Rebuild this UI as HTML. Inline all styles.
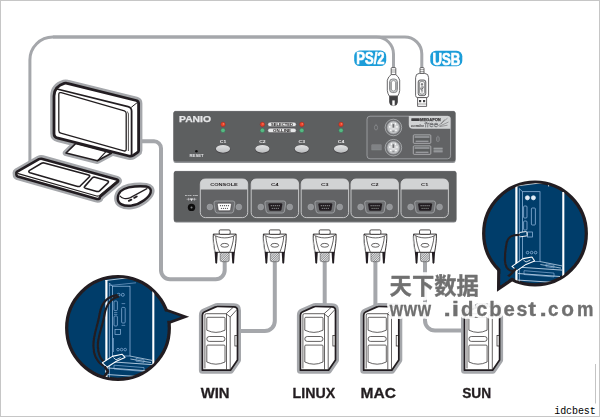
<!DOCTYPE html>
<html><head><meta charset="utf-8"><title>KVM switch connection diagram</title>
<style>
html,body{margin:0;padding:0;background:#fff}
body{width:600px;height:417px;overflow:hidden;font-family:"Liberation Sans",sans-serif}
svg{display:block}
</style></head><body>
<svg width="600" height="417" viewBox="0 0 600 417">

<defs>
<linearGradient id="btn" x1="0" y1="0" x2="0" y2="1"><stop offset="0" stop-color="#e2e3e4"/><stop offset="1" stop-color="#bcbec0"/></linearGradient>
<radialGradient id="ps2g" cx="0.5" cy="0.5" r="0.5"><stop offset="0" stop-color="#e6e7e8"/><stop offset="1" stop-color="#bcbec0"/></radialGradient>
<pattern id="hatch" width="1.6" height="1.6" patternUnits="userSpaceOnUse" patternTransform="rotate(45)"><rect width="1.6" height="1.6" fill="#e6e7e8"/><rect width="0.6" height="1.6" fill="#6d6e71"/></pattern>

<!-- VGA cable plug, origin = centre x, y=0 at top (abs y 229.5) -->
<g id="vgaplug">
  <rect x="-4.5" y="22.4" width="9" height="9.8" rx="1.6" fill="url(#hatch)" stroke="#414042" stroke-width="0.5"/>
  <path d="M-11.4,4.6 H11.4 C11.7,11 10.6,17 9.6,22.8 H-9.6 C-10.6,17 -11.7,11 -11.4,4.6 Z" fill="#fff" stroke="#231f20" stroke-width="0.9" stroke-linejoin="round"/>
  <path d="M-9,6.6 C-8.6,13 -6.8,18.4 -5,22.8 M9,6.6 C8.6,13 6.8,18.4 5,22.8" fill="none" stroke="#231f20" stroke-width="0.7"/>
  <path d="M-11.4,4.8 C-6,9.6 6,9.6 11.4,4.8" fill="none" stroke="#231f20" stroke-width="0.7"/>
  <rect x="-5.5" y="0.4" width="11" height="4.4" rx="1.2" fill="#fff" stroke="#231f20" stroke-width="0.8"/>
  <ellipse cx="0" cy="15.8" rx="3.9" ry="1.9" fill="#fff" stroke="#231f20" stroke-width="0.7"/>
  <path d="M-10.1,22.6 H-6.9 L-7.5,33 Q-8.4,35.6 -9.4,33 Z" fill="#231f20"/>
  <path d="M10.1,22.6 H6.9 L7.5,33 Q8.4,35.6 9.4,33 Z" fill="#231f20"/>
  <path d="M-12,6.4 C-11.8,13 -11,18 -10.2,22" fill="none" stroke="#bcbec0" stroke-width="0.9"/>
</g>

<!-- rear VGA port, origin = centre -->
<g id="vgaport">
  <circle cx="-14.5" cy="0" r="2.9" fill="#939598" stroke="#a7a9ac" stroke-width="0.5"/>
  <circle cx="14.5" cy="0" r="2.9" fill="#939598" stroke="#a7a9ac" stroke-width="0.5"/>
  <path d="M-10.4,-4 Q-10.4,-6 -8.4,-6 H8.4 Q10.4,-6 10.4,-4 L9.2,4 Q8.9,6 6.9,6 H-6.9 Q-8.9,6 -9.2,4 Z" fill="#6d6e71" stroke="#a7a9ac" stroke-width="0.8"/>
</g>
<g id="vgaF">
  <use href="#vgaport"/>
  <path d="M-7,-2.6 Q-7,-3.8 -5.8,-3.8 H5.8 Q7,-3.8 7,-2.6 L6.2,2.6 Q6,3.8 4.8,3.8 H-4.8 Q-6,3.8 -6.2,2.6 Z" fill="#231f20"/>
  <g fill="#939598"><circle cx="-4" cy="-1.3" r="0.65"/><circle cx="-2" cy="-1.3" r="0.65"/><circle cx="0" cy="-1.3" r="0.65"/><circle cx="2" cy="-1.3" r="0.65"/><circle cx="4" cy="-1.3" r="0.65"/>
  <circle cx="-3" cy="1.3" r="0.65"/><circle cx="-1" cy="1.3" r="0.65"/><circle cx="1" cy="1.3" r="0.65"/><circle cx="3" cy="1.3" r="0.65"/></g>
</g>
<g id="vgaM">
  <use href="#vgaport"/>
  <path d="M-7,-2.6 Q-7,-3.8 -5.8,-3.8 H5.8 Q7,-3.8 7,-2.6 L6.2,2.6 Q6,3.8 4.8,3.8 H-4.8 Q-6,3.8 -6.2,2.6 Z" fill="#fff" stroke="#231f20" stroke-width="0.5"/>
  <g fill="#414042"><circle cx="-4" cy="-1.3" r="0.6"/><circle cx="-2" cy="-1.3" r="0.6"/><circle cx="0" cy="-1.3" r="0.6"/><circle cx="2" cy="-1.3" r="0.6"/><circle cx="4" cy="-1.3" r="0.6"/>
  <circle cx="-3" cy="1.3" r="0.6"/><circle cx="-1" cy="1.3" r="0.6"/><circle cx="1" cy="1.3" r="0.6"/><circle cx="3" cy="1.3" r="0.6"/></g>
</g>

<!-- PC tower, absolute coords of WIN tower -->
<path id="towerSil" d="M201.9,370.2 V315.2 Q201.9,312.9 203.8,312 L215.2,306.9 Q216,306.5 217,306.5 L233.4,306.8 Q237,306.9 237,310.4 V360 L230,370.2 Z"/>
<g id="tower">
  <use href="#towerSil" fill="none" stroke="#a5a7ab" stroke-width="7" stroke-linejoin="round"/>
  <use href="#towerSil" fill="#fff" stroke="#231f20" stroke-width="1.7" stroke-linejoin="round"/>
  <g fill="none" stroke="#231f20" stroke-width="0.7">
    <path d="M204.4,368.4 V315 Q204.4,313.7 205.8,313.7 H225.6"/>
    <path d="M226,314 V369.4 M229.7,317 V369.6"/>
    <path d="M225.6,313.7 L229.7,317 M225.6,313.7 L232.6,307.4 M229.7,317 L236.4,309.6"/>
    <path d="M206.3,318.3 Q206.3,317.3 207.3,317.3 H223.5 Q224.5,317.3 224.5,318.3 V330.2 Q215.4,334.6 206.3,330.2 Z"/>
    <rect x="206.3" y="336.5" width="18.2" height="4.9" rx="2.45"/>
    <path d="M206.3,346.1 Q206.3,345.1 207.3,345.1 H223.5 Q224.5,345.1 224.5,346.1 V362 Q215.4,366.4 206.3,362 Z"/>
    <rect x="234.4" y="335.6" width="2.6" height="10.4"/>
  </g>
</g>
</defs>

<rect x="0.5" y="0.5" width="599" height="416" fill="#fff" stroke="#c6c6c6" stroke-width="1"/>
<path d="M595.5,364 V403.5" stroke="#c4c4c4" stroke-width="1" fill="none"/>
<filter id="soft" x="0" y="0" width="600" height="417" filterUnits="userSpaceOnUse"><feGaussianBlur stdDeviation="0.38"/></filter>
<g filter="url(#soft)">
<g fill="none" stroke="#a5a7ab" stroke-linecap="butt">
<path d="M29.9,162 V60 A23,23 0 0 1 52.9,37 H376.5 A17,17 0 0 1 393.5,54 V69" stroke-width="3"/>
<path d="M52.9,37 H404.6 A17,17 0 0 1 421.8,54 V69" stroke-width="3"/>
<path d="M142,141.3 H154 A7,7 0 0 1 161,148.3 V270.2 A9,9 0 0 0 170,279.2 H215.7 A9,9 0 0 0 224.7,270.2 V260" stroke-width="4"/>
<path d="M238,331 H264.8 A10,10 0 0 0 274.8,321 V260" stroke-width="4"/>
<path d="M324.7,260 V306" stroke-width="4"/>
<path d="M375.4,260 V306" stroke-width="4"/>
<path d="M425,260 V320.5 A10,10 0 0 0 435,330.5 H464" stroke-width="4"/>
</g>
<rect x="173.4" y="111" width="282.1" height="52" rx="2.5" fill="#939598"/>
<rect x="173.4" y="111" width="282.1" height="50.6" rx="2.5" fill="#5d5e60"/>
<path d="M175,111.4 H454" stroke="#6d6e71" stroke-width="0.8"/>
<text x="179" y="121.8" font-family="Liberation Sans, sans-serif" font-weight="bold" font-size="8.6" fill="#e6e7e8" stroke="#e6e7e8" stroke-width="0.25" textLength="32" lengthAdjust="spacingAndGlyphs">PANIO</text>
<circle cx="223" cy="124.4" r="2.3" fill="#e8402a" stroke="#8a2c20" stroke-width="0.4"/><circle cx="223.5" cy="123.9" r="0.8" fill="#f47b5e"/>
<circle cx="223" cy="130.4" r="2.2" fill="#55b983" stroke="#33704f" stroke-width="0.4"/>
<text x="223" y="143.2" text-anchor="middle" font-family="Liberation Sans, sans-serif" font-weight="bold" font-size="4.1" fill="#f1f1f2" textLength="6.4" lengthAdjust="spacingAndGlyphs">C1</text>
<ellipse cx="223" cy="149.1" rx="7.5" ry="4.3" fill="#414042"/><ellipse cx="223" cy="148.8" rx="7.1" ry="3.9" fill="url(#btn)"/>
<circle cx="262.4" cy="124.4" r="2.3" fill="#e8402a" stroke="#8a2c20" stroke-width="0.4"/><circle cx="262.9" cy="123.9" r="0.8" fill="#f47b5e"/>
<circle cx="262.4" cy="130.4" r="2.2" fill="#55b983" stroke="#33704f" stroke-width="0.4"/>
<text x="262.4" y="143.2" text-anchor="middle" font-family="Liberation Sans, sans-serif" font-weight="bold" font-size="4.1" fill="#f1f1f2" textLength="6.4" lengthAdjust="spacingAndGlyphs">C2</text>
<ellipse cx="262.4" cy="149.1" rx="7.5" ry="4.3" fill="#414042"/><ellipse cx="262.4" cy="148.8" rx="7.1" ry="3.9" fill="url(#btn)"/>
<circle cx="301.8" cy="124.4" r="2.3" fill="#e8402a" stroke="#8a2c20" stroke-width="0.4"/><circle cx="302.3" cy="123.9" r="0.8" fill="#f47b5e"/>
<circle cx="301.8" cy="130.4" r="2.2" fill="#55b983" stroke="#33704f" stroke-width="0.4"/>
<text x="301.8" y="143.2" text-anchor="middle" font-family="Liberation Sans, sans-serif" font-weight="bold" font-size="4.1" fill="#f1f1f2" textLength="6.4" lengthAdjust="spacingAndGlyphs">C3</text>
<ellipse cx="301.8" cy="149.1" rx="7.5" ry="4.3" fill="#414042"/><ellipse cx="301.8" cy="148.8" rx="7.1" ry="3.9" fill="url(#btn)"/>
<circle cx="341" cy="124.4" r="2.3" fill="#e8402a" stroke="#8a2c20" stroke-width="0.4"/><circle cx="341.5" cy="123.9" r="0.8" fill="#f47b5e"/>
<circle cx="341" cy="130.4" r="2.2" fill="#55b983" stroke="#33704f" stroke-width="0.4"/>
<text x="341" y="143.2" text-anchor="middle" font-family="Liberation Sans, sans-serif" font-weight="bold" font-size="4.1" fill="#f1f1f2" textLength="6.4" lengthAdjust="spacingAndGlyphs">C4</text>
<ellipse cx="341" cy="149.1" rx="7.5" ry="4.3" fill="#414042"/><ellipse cx="341" cy="148.8" rx="7.1" ry="3.9" fill="url(#btn)"/>
<rect x="267.8" y="122.2" width="28.4" height="4.4" rx="2.2" fill="#e6e7e8" stroke="#414042" stroke-width="0.4"/>
<rect x="267.8" y="128.2" width="28.4" height="4.4" rx="2.2" fill="#e6e7e8" stroke="#414042" stroke-width="0.4"/>
<text x="282" y="125.6" text-anchor="middle" font-family="Liberation Sans, sans-serif" font-weight="bold" font-size="3.3" fill="#231f20" textLength="22" lengthAdjust="spacingAndGlyphs">SELECTED</text>
<text x="282" y="131.6" text-anchor="middle" font-family="Liberation Sans, sans-serif" font-weight="bold" font-size="3.3" fill="#231f20" textLength="18" lengthAdjust="spacingAndGlyphs">ON-LINE</text>
<circle cx="196.4" cy="151.2" r="1.3" fill="#111"/>
<text x="196.6" y="156.8" text-anchor="middle" font-family="Liberation Sans, sans-serif" font-weight="bold" font-size="3" fill="#e6e7e8" textLength="14" lengthAdjust="spacingAndGlyphs">RESET</text>
<rect x="367" y="116.2" width="83.6" height="42.6" rx="3" fill="#626365" stroke="#a7a9ac" stroke-width="0.8"/>
<circle cx="393.4" cy="127.5" r="8.3" fill="#6d6e71" stroke="#bcbec0" stroke-width="0.7"/>
<circle cx="393.4" cy="127.5" r="6.4" fill="url(#ps2g)" stroke="#939598" stroke-width="0.5"/>
<rect x="392.5" y="124.1" width="1.8" height="3.6" fill="#6d6e71"/>
<circle cx="389.79999999999995" cy="126.9" r="0.8" fill="#fff"/>
<circle cx="397.0" cy="126.9" r="0.8" fill="#fff"/>
<circle cx="390.79999999999995" cy="130.3" r="0.8" fill="#fff"/>
<circle cx="396.0" cy="130.3" r="0.8" fill="#fff"/>
<circle cx="391.4" cy="123.9" r="0.8" fill="#fff"/>
<circle cx="395.4" cy="123.9" r="0.8" fill="#fff"/>
<rect x="392.3" y="130.5" width="2.2" height="1.6" fill="#939598"/>
<circle cx="393.4" cy="147.7" r="8.3" fill="#6d6e71" stroke="#bcbec0" stroke-width="0.7"/>
<circle cx="393.4" cy="147.7" r="6.4" fill="url(#ps2g)" stroke="#939598" stroke-width="0.5"/>
<rect x="392.5" y="144.29999999999998" width="1.8" height="3.6" fill="#6d6e71"/>
<circle cx="389.79999999999995" cy="147.1" r="0.8" fill="#fff"/>
<circle cx="397.0" cy="147.1" r="0.8" fill="#fff"/>
<circle cx="390.79999999999995" cy="150.5" r="0.8" fill="#fff"/>
<circle cx="396.0" cy="150.5" r="0.8" fill="#fff"/>
<circle cx="391.4" cy="144.1" r="0.8" fill="#fff"/>
<circle cx="395.4" cy="144.1" r="0.8" fill="#fff"/>
<rect x="392.3" y="150.7" width="2.2" height="1.6" fill="#939598"/>
<ellipse cx="376" cy="127.6" rx="1.6" ry="2.4" fill="none" stroke="#939598" stroke-width="0.6"/><path d="M376,125.2 V123.8" stroke="#939598" stroke-width="0.5"/>
<rect x="371.8" y="144.8" width="9.4" height="5.2" fill="#808285" stroke="#939598" stroke-width="0.4"/>
<path d="M408.8,116 H447.6 Q450.4,116 450.4,118.8 V128.7 H412.8 Q408.8,128.7 408.8,124.7 Z" fill="#d1d3d4"/>
<rect x="411.3" y="118.2" width="8.4" height="2.8" rx="0.6" fill="#414042"/>
<text x="420" y="120.9" font-family="Liberation Sans, sans-serif" font-weight="bold" font-size="3.7" fill="#414042" stroke="#414042" stroke-width="0.25" textLength="20.8" lengthAdjust="spacingAndGlyphs">MEGAFON</text>
<text x="411" y="126.8" font-family="Liberation Sans, sans-serif" font-style="italic" font-weight="bold" font-size="4.2" fill="#414042" textLength="13" lengthAdjust="spacingAndGlyphs">combo</text>
<text x="424.4" y="126.9" font-family="Liberation Sans, sans-serif" font-size="7" fill="#d1d3d4" stroke="#6d6e71" stroke-width="0.35" textLength="14" lengthAdjust="spacingAndGlyphs">free</text>
<path d="M438,126 L447.5,118.2 M439,126.4 L448.5,122 M440,126.6 L447.5,125.2 M441,124 L444.5,119.5" stroke="#414042" stroke-width="0.4" fill="none"/>
<rect x="413.3" y="134.9" width="17.5" height="8.4" rx="0.8" fill="#5d5e60" stroke="#bcbec0" stroke-width="0.8"/>
<rect x="414.6" y="136.1" width="14.9" height="1.8" fill="#939598"/>
<rect x="415.6" y="140.70000000000002" width="12.9" height="1.1" fill="#a7a9ac"/>
<rect x="413.3" y="145.9" width="17.5" height="8.4" rx="0.8" fill="#5d5e60" stroke="#bcbec0" stroke-width="0.8"/>
<rect x="414.6" y="147.1" width="14.9" height="1.8" fill="#939598"/>
<rect x="415.6" y="151.70000000000002" width="12.9" height="1.1" fill="#a7a9ac"/>
<rect x="436.5" y="136.8" width="2.8" height="4.6" rx="1.1" fill="#6d6e71" stroke="#939598" stroke-width="0.6"/><path d="M437.9,136.8 V135.6" stroke="#939598" stroke-width="0.5"/>
<rect x="433.6" y="147.5" width="9" height="5.2" fill="#808285"/><path d="M433.6,148.4 H442.6 M433.6,151.2 H442.6" stroke="#a7a9ac" stroke-width="0.8"/>
<rect x="173.8" y="171" width="282.6" height="51.6" rx="2.5" fill="#808285"/>
<rect x="173.8" y="171" width="282.6" height="50.6" rx="2.5" fill="#5d5e60"/>
<path d="M175.5,171.4 H455" stroke="#6d6e71" stroke-width="0.8"/>
<rect x="200.3" y="179" width="47.4" height="38.6" rx="5" fill="#626365"/>
<path d="M200.3,189.6 V184 Q200.3,179 205.3,179 H242.70000000000002 Q247.70000000000002,179 247.70000000000002,184 V189.6 Z" fill="#d1d3d4"/>
<rect x="200.3" y="179" width="47.4" height="38.6" rx="5" fill="none" stroke="#d1d3d4" stroke-width="0.9"/>
<text x="224.0" y="185.7" text-anchor="middle" font-family="Liberation Sans, sans-serif" font-weight="bold" font-size="3.4" fill="#231f20" textLength="27.7" lengthAdjust="spacingAndGlyphs">CONSOLE</text>
<use href="#vgaM" x="224.4" y="207"/>
<rect x="251.2" y="179" width="47.4" height="38.6" rx="5" fill="#626365"/>
<path d="M251.2,189.6 V184 Q251.2,179 256.2,179 H293.59999999999997 Q298.59999999999997,179 298.59999999999997,184 V189.6 Z" fill="#d1d3d4"/>
<rect x="251.2" y="179" width="47.4" height="38.6" rx="5" fill="none" stroke="#d1d3d4" stroke-width="0.9"/>
<text x="274.9" y="185.7" text-anchor="middle" font-family="Liberation Sans, sans-serif" font-weight="bold" font-size="3.4" fill="#231f20" textLength="7.6" lengthAdjust="spacingAndGlyphs">C4</text>
<use href="#vgaF" x="275.3" y="207"/>
<rect x="301.2" y="179" width="47.4" height="38.6" rx="5" fill="#626365"/>
<path d="M301.2,189.6 V184 Q301.2,179 306.2,179 H343.59999999999997 Q348.59999999999997,179 348.59999999999997,184 V189.6 Z" fill="#d1d3d4"/>
<rect x="301.2" y="179" width="47.4" height="38.6" rx="5" fill="none" stroke="#d1d3d4" stroke-width="0.9"/>
<text x="324.9" y="185.7" text-anchor="middle" font-family="Liberation Sans, sans-serif" font-weight="bold" font-size="3.4" fill="#231f20" textLength="7.6" lengthAdjust="spacingAndGlyphs">C3</text>
<use href="#vgaF" x="325.3" y="207"/>
<rect x="351.0" y="179" width="47.4" height="38.6" rx="5" fill="#626365"/>
<path d="M351.0,189.6 V184 Q351.0,179 356.0,179 H393.4 Q398.4,179 398.4,184 V189.6 Z" fill="#d1d3d4"/>
<rect x="351.0" y="179" width="47.4" height="38.6" rx="5" fill="none" stroke="#d1d3d4" stroke-width="0.9"/>
<text x="374.7" y="185.7" text-anchor="middle" font-family="Liberation Sans, sans-serif" font-weight="bold" font-size="3.4" fill="#231f20" textLength="7.6" lengthAdjust="spacingAndGlyphs">C2</text>
<use href="#vgaF" x="375.1" y="207"/>
<rect x="401.0" y="179" width="47.4" height="38.6" rx="5" fill="#626365"/>
<path d="M401.0,189.6 V184 Q401.0,179 406.0,179 H443.4 Q448.4,179 448.4,184 V189.6 Z" fill="#d1d3d4"/>
<rect x="401.0" y="179" width="47.4" height="38.6" rx="5" fill="none" stroke="#d1d3d4" stroke-width="0.9"/>
<text x="424.7" y="185.7" text-anchor="middle" font-family="Liberation Sans, sans-serif" font-weight="bold" font-size="3.4" fill="#231f20" textLength="7.2" lengthAdjust="spacingAndGlyphs">C1</text>
<use href="#vgaF" x="425.1" y="207"/>
<circle cx="191.5" cy="207.4" r="3.7" fill="#111"/><circle cx="191.5" cy="207.4" r="1" fill="#808285"/>
<text x="191.6" y="195.8" text-anchor="middle" font-family="Liberation Sans, sans-serif" font-weight="bold" font-size="2.3" fill="#e6e7e8" textLength="13" lengthAdjust="spacingAndGlyphs">EXT 9W</text>
<path d="M186.6,199.2 H196.4 M188.6,197.8 V200.6 M194.4,197.8 V200.6" stroke="#e6e7e8" stroke-width="0.5"/><path d="M190,198.4 H193 L191.5,201.2 Z" fill="#e6e7e8"/>
<use href="#vgaplug" x="224.7" y="229.5"/>
<use href="#vgaplug" x="274.8" y="229.5"/>
<use href="#vgaplug" x="324.7" y="229.5"/>
<use href="#vgaplug" x="375.4" y="229.5"/>
<use href="#vgaplug" x="425" y="229.5"/>
<g stroke="#414042" stroke-width="0.8" stroke-linejoin="round">
<rect x="391.2" y="67.6" width="4.6" height="7.4" rx="0.8" fill="#fff"/>
<path d="M391.2,70 H395.8 M391.2,72 H395.8" stroke-width="0.5"/>
<path d="M391.2,74.6 H395.8 Q398.6,76.4 399.7,80.2 V90.4 Q399.4,93.6 397.6,96.2 H389.4 Q387.6,93.6 387.3,90.4 V80.2 Q388.4,76.4 391.2,74.6 Z" fill="#fff"/>
<rect x="389.6" y="79" width="7.8" height="13.6" rx="3" fill="#d1d3d4" stroke="#6d6e71"/>
<rect x="391.4" y="80.6" width="4.2" height="10.4" rx="2" fill="#fff" stroke="#6d6e71" stroke-width="0.6"/>
<path d="M389.8,83 H391.4 M389.8,85 H391.4 M389.8,87 H391.4 M389.8,89 H391.4 M395.6,83 H397.2 M395.6,85 H397.2 M395.6,87 H397.2 M395.6,89 H397.2" stroke-width="0.45"/>
<path d="M389.6,96.2 H397.4 V102 Q397.4,105.6 393.5,105.6 Q389.6,105.6 389.6,102 Z" fill="#414042"/>
<rect x="392.3" y="100.4" width="2.4" height="5.2" fill="#fff" stroke="none"/>
</g>
<g stroke="#414042" stroke-width="0.8" stroke-linejoin="round">
<rect x="420" y="67.6" width="4" height="6.2" rx="0.8" fill="#fff"/>
<path d="M420,69.6 H424 M420,71.6 H424" stroke-width="0.5"/>
<path d="M415.6,77.6 Q415.6,73.6 419.2,73.4 H424.8 Q428.6,73.6 428.6,77.6 V95.4 Q428.6,97.6 426.4,97.6 H417.8 Q415.6,97.6 415.6,95.4 Z" fill="#fff"/>
<rect x="418.2" y="80" width="7.6" height="15.6" rx="2" fill="#d1d3d4"/>
<rect x="419.6" y="81.6" width="4.8" height="12.4" rx="1.4" fill="#fff" stroke-width="0.5"/>
<path d="M422,92.6 V83.4 M422,83.4 L421.2,84.8 M422,83.4 L422.8,84.8 M422,90.6 L420.8,89.2 V87.6 M422,89.2 L423.2,87.8 V86.4" stroke-width="0.7" fill="none"/>
<rect x="417.6" y="97.6" width="9" height="8.8" fill="#fff"/>
<rect x="419" y="100" width="2.2" height="2.2" fill="#414042" stroke="none"/><rect x="423" y="100" width="2.2" height="2.2" fill="#414042" stroke="none"/>
<path d="M417.6,104 H426.6" stroke-width="0.5"/>
</g>
<rect x="354.2" y="50.6" width="32" height="15.4" rx="5.5" fill="#1b9dd9"/>
<text x="370.4" y="64.1" text-anchor="middle" font-family="Liberation Sans, sans-serif" font-weight="bold" font-size="15.7" fill="#fff" stroke="#fff" stroke-width="0.7" textLength="28.2" lengthAdjust="spacingAndGlyphs">PS/2</text>
<rect x="430.3" y="50.8" width="32" height="15.4" rx="5.5" fill="#1b9dd9"/>
<text x="446.4" y="64.7" text-anchor="middle" font-family="Liberation Sans, sans-serif" font-weight="bold" font-size="15.7" fill="#fff" stroke="#fff" stroke-width="0.7" textLength="27.8" lengthAdjust="spacingAndGlyphs">USB</text>
<path d="M75.6,143.6 L66,153 L97.4,160.8 L111.4,153.2 L106,151.6 Z" fill="none" stroke="#a5a7ab" stroke-width="6.4" stroke-linejoin="round"/>
<path d="M54,132.8 V96 C54,89.6 58,85.4 64.2,83.4 C65.2,83.1 66.2,83.1 67.2,83.4 L136.2,100.5 Q138.6,101.1 138.6,103.6 V150.4 Q138.6,151.7 137.6,152.3 L133.2,155.4 Q131.2,156.6 129,156 L58,138.2 Q54,137.2 54,133.4 Z" fill="none" stroke="#a5a7ab" stroke-width="7.6" stroke-linejoin="round"/>
<path d="M75.6,143.6 L66,153 L97.4,160.8 L111.4,153.2 L106,151.6 Z" fill="#fff" stroke="#231f20" stroke-width="1.6" stroke-linejoin="round"/>
<path d="M106,151.6 L97.4,160.8" fill="none" stroke="#231f20" stroke-width="1.2"/>
<path d="M54,132.8 V96 C54,89.6 58,85.4 64.2,83.4 C65.2,83.1 66.2,83.1 67.2,83.4 L136.2,100.5 Q138.6,101.1 138.6,103.6 V150.4 Q138.6,151.7 137.6,152.3 L133.2,155.4 Q131.2,156.6 129,156 L58,138.2 Q54,137.2 54,133.4 Z" fill="#fff" stroke="#231f20" stroke-width="2.8" stroke-linejoin="round"/>
<path d="M55,88.5 L128,106.6 Q131.6,107.6 131.6,111 V156" fill="none" stroke="#231f20" stroke-width="1.8" stroke-linejoin="round"/>
<path d="M131.2,107.4 L138.2,101.8" fill="none" stroke="#231f20" stroke-width="1"/>
<path d="M58.8,94.6 Q58.8,92 61.2,92.7 L124.4,110.8 Q126.2,111.4 126.2,113.4 V149 Q126.2,151.6 123.8,150.8 L60.8,133.2 Q58.8,132.6 58.8,130.6 Z" fill="#fff" stroke="#231f20" stroke-width="1.3" stroke-linejoin="round"/>
<path d="M127,111.6 Q128.4,112.4 128.4,114 V151" fill="none" stroke="#231f20" stroke-width="0.8"/>
<path d="M16.4,173.5 Q16,172.4 17.2,171.6 L39,159.2 Q40.6,158.4 42.4,158.9 L116.8,179.6 Q119,180.3 117.8,181.8 L100,196.8 L99.6,198.4 Q98.2,199.4 96.2,198.8 L17.8,176.5 Q16.4,176 16.4,174.8 Z" fill="none" stroke="#a5a7ab" stroke-width="7.4" stroke-linejoin="round"/>
<path d="M16.4,173.5 Q16,172.4 17.2,171.6 L39,159.2 Q40.6,158.4 42.4,158.9 L116.8,179.6 Q119,180.3 117.8,181.8 L100,196.8 L99.6,198.4 Q98.2,199.4 96.2,198.8 L17.8,176.5 Q16.4,176 16.4,174.8 Z" fill="#fff" stroke="#231f20" stroke-width="2.6" stroke-linejoin="round"/>
<path d="M17.4,173.4 L96.6,196 Q98.2,196.4 99.6,195.4 L117.4,180.6" fill="none" stroke="#231f20" stroke-width="1.1" stroke-linejoin="round"/>
<path d="M29.6,170.4 L41.6,163.2 Q42.8,162.6 44.2,163 L88.6,175 Q90.6,175.6 89.2,177 L80.4,185.8 Q79.2,186.8 77.6,186.4 L30,172.8 Q27.8,171.8 29.6,170.4 Z" fill="#fff" stroke="#231f20" stroke-width="1.6" stroke-linejoin="round"/>
<path d="M84.6,186.6 L92.4,177.8 Q93.4,176.8 95,177.2 L107.4,180.8 Q109.2,181.4 108,182.8 L99.6,190.8 Q98.4,191.8 96.8,191.4 L85.4,188.2 Q83.6,187.6 84.6,186.6 Z" fill="#fff" stroke="#231f20" stroke-width="1.6" stroke-linejoin="round"/>
<path d="M117.8,198.4 C117.8,193 122,188.8 128.8,187.4 C135,186.2 142,186 146.2,186.6 C150,187.2 151.6,189.6 150.6,192.6 C149.2,197 141,204.2 131.6,205.6 C123.2,206.6 117.8,203.6 117.8,198.4 Z" fill="none" stroke="#a5a7ab" stroke-width="7.4" stroke-linejoin="round"/>
<path d="M117.8,198.4 C117.8,193 122,188.8 128.8,187.4 C135,186.2 142,186 146.2,186.6 C150,187.2 151.6,189.6 150.6,192.6 C149.2,197 141,204.2 131.6,205.6 C123.2,206.6 117.8,203.6 117.8,198.4 Z" fill="#fff" stroke="#231f20" stroke-width="2.5" stroke-linejoin="round"/>
<path d="M119.8,195.8 C121.6,198.6 126.2,199.6 130.4,197.6 L147.4,188.4" fill="none" stroke="#231f20" stroke-width="1.2"/>
<path d="M128.8,200.9 L131.4,199.6 M134.2,197.9 L136.8,196.5" fill="none" stroke="#231f20" stroke-width="1.8" stroke-linecap="round"/>
<use href="#tower" x="0.5" y="0"/>
<use href="#tower" x="98.5" y="0"/>
<use href="#tower" x="161.8" y="0"/>
<use href="#tower" x="262.6" y="0"/>
<path d="M165.4,310.2 L184.2,316.8 L169,322.4 Z" fill="#013d6b" stroke="#231f20" stroke-width="3.4" stroke-linejoin="miter" stroke-miterlimit="10"/>
<circle cx="118" cy="328" r="51.3" fill="#013d6b" stroke="#231f20" stroke-width="3.3"/>
<path d="M163,311.6 L167,311.8 L181.2,316.8 L170,320.8 L165,321 Z" fill="#013d6b"/>
<clipPath id="cl"><circle cx="118" cy="328" r="50.3"/></clipPath>
<g clip-path="url(#cl)"><g transform="translate(118,328)" fill="none" stroke="#9fc3e6" stroke-width="0.7"><path d="M-11.6,-48 V52" stroke="#ffffff" stroke-width="2.2"/><path d="M-12.6,-47.4 L20.6,-51.6 V-47" stroke="#ffffff" stroke-width="0.7"/><path d="M-8.6,-45 V52" stroke-width="0.7"/><path d="M35.3,-41.6 V46" stroke="#ffffff" stroke-width="2.1"/><rect x="-5.6" y="-41.8" width="17.6" height="69.8" /><path d="M-8.6,-45 L-5.6,-41.8" /><path d="M-10,33.6 L34,36.6 M-10,40 L32,43 M-10,46.6 L28,49" stroke="#d6e6f5" stroke-width="0.8"/><path d="M11.8,28 L34,32.4 M12.4,31 L33,34.6" stroke="#d6e6f5" stroke-width="0.7"/><path d="M18,30.4 l8,1.4 v2.6 l-8,-1.2 Z" stroke-width="0.5"/><path d="M-4,37.2 L26,39.6 V43.4 L-4,41 Z" stroke-width="0.6"/></g>
<g fill="none" stroke="#8fb6dc" stroke-width="0.7">
<circle cx="118.6" cy="294.8" r="1.5"/><circle cx="122.8" cy="294.8" r="1.5"/>
<rect x="114" y="301" width="3.4" height="9.6" rx="1"/><rect x="121.6" y="307.4" width="3.6" height="15.6" rx="1"/>
<rect x="114" y="316" width="3.4" height="10" rx="1"/>
<path d="M114,312.6 h3.4 M114,314.4 h3.4 M121.6,303.6 h3.6 M121.6,325.4 h3.6" stroke-width="0.6"/>
<rect x="115" y="329.4" width="5.4" height="5" />
<path d="M113.4,338 V352" />
<circle cx="118" cy="349.6" r="1.3"/><circle cx="121.6" cy="349.6" r="1.3"/><circle cx="125.2" cy="349.6" r="1.3"/>
<path d="M109,285.6 L136,282.8" stroke-width="0.6"/>
</g>
<path d="M117,295.2 C106.6,296.6 101.4,304 99.6,314 C97.8,326 93.2,334 93.4,346 C93.6,356 97,362 103,365.6" fill="none" stroke="#231f20" stroke-width="2.2" stroke-linecap="round"/>
<path d="M118.4,296.8 C110.6,298.6 105.8,306 104.2,316 C102.2,328 97.6,336 97.8,346 C98,354 100.6,359.6 105,362.6" fill="none" stroke="#231f20" stroke-width="2.2" stroke-linecap="round"/>
<path d="M102.4,362.8 L112.4,356.4 L122,354.2 L125,357.4 L116.4,361.2 L107,367.2 Z" fill="#013d6b" stroke="#fff" stroke-width="1.1" stroke-linejoin="round"/>
<path d="M113.4,357.6 L116,359.8 L120.6,357.6" fill="none" stroke="#fff" stroke-width="0.8"/>
<path d="M104.6,366.4 L107.8,371.4 L102.6,379" fill="none" stroke="#231f20" stroke-width="2.6" stroke-linejoin="round"/>
</g>
<path d="M498.9,266 L498.7,288.6 L516.4,276.6 Z" fill="#013d6b" stroke="#231f20" stroke-width="3.4" stroke-linejoin="miter" stroke-miterlimit="10"/>
<circle cx="535" cy="233.5" r="51.3" fill="#013d6b" stroke="#231f20" stroke-width="3.3"/>
<path d="M500.6,262 L500.4,285.2 L514,276 L517,271 Z" fill="#013d6b"/>
<clipPath id="cr"><circle cx="535" cy="233.5" r="50.4"/></clipPath>
<g clip-path="url(#cr)"><g transform="translate(528,233.5)" fill="none" stroke="#9fc3e6" stroke-width="0.7"><path d="M-11.6,-48 V52" stroke="#ffffff" stroke-width="2.2"/><path d="M-12.6,-47.4 L20.6,-51.6 V-47" stroke="#ffffff" stroke-width="0.7"/><path d="M-8.6,-45 V52" stroke-width="0.7"/><path d="M35.3,-41.6 V46" stroke="#ffffff" stroke-width="2.1"/><rect x="-5.6" y="-41.8" width="17.6" height="69.8" /><path d="M-8.6,-45 L-5.6,-41.8" /><path d="M-10,33.6 L34,36.6 M-10,40 L32,43 M-10,46.6 L28,49" stroke="#d6e6f5" stroke-width="0.8"/><path d="M11.8,28 L34,32.4 M12.4,31 L33,34.6" stroke="#d6e6f5" stroke-width="0.7"/><path d="M18,30.4 l8,1.4 v2.6 l-8,-1.2 Z" stroke-width="0.5"/><path d="M-4,37.2 L26,39.6 V43.4 L-4,41 Z" stroke-width="0.6"/></g>
<g fill="none" stroke="#9fc3e6" stroke-width="0.7">
<circle cx="527.4" cy="197.8" r="2.1" fill="#e4eef8" stroke="#e4eef8"/><circle cx="533.4" cy="197.8" r="2.1" fill="#e4eef8" stroke="#e4eef8"/>
<rect x="523.6" y="206" width="3.4" height="12" rx="1"/><rect x="531.4" y="208" width="4" height="17" rx="1"/>
<rect x="523.6" y="221" width="3.4" height="9" rx="1"/>
<rect x="527.6" y="232" width="5" height="5"/>
<circle cx="527.6" cy="252.6" r="1.3"/><circle cx="531.6" cy="252.6" r="1.3"/><circle cx="535.6" cy="252.6" r="1.3"/>
</g>
<rect x="519.4" y="232" width="7.6" height="4.4" rx="0.8" fill="#013d6b" stroke="#fff" stroke-width="0.9" transform="rotate(-8 523 234)"/>
<path d="M519,234.8 C512,234.8 508.2,236.4 506.8,242 C505.2,250 504.4,258 505.4,264 C506.4,268.8 510,271.6 514,270.8" fill="none" stroke="#231f20" stroke-width="2.2" stroke-linecap="round"/>
<path d="M512,266.4 L523,258.6 L532,257 L534.6,261 L526,264.4 L517,270.6 Z" fill="#013d6b" stroke="#fff" stroke-width="1.1" stroke-linejoin="round"/>
<path d="M516,268.4 L512.6,272.6 L504,280" fill="none" stroke="#231f20" stroke-width="2.4" stroke-linejoin="round"/>
<path d="M523.4,260 L526,262 L530.4,260" fill="none" stroke="#fff" stroke-width="0.8"/>
</g>
<text x="200.7" y="397.8" font-family="Liberation Sans, sans-serif" font-weight="bold" font-size="14.4" fill="#231f20" stroke="#231f20" stroke-width="0.3" textLength="28.9" lengthAdjust="spacingAndGlyphs">WIN</text>
<text x="292.6" y="397.8" font-family="Liberation Sans, sans-serif" font-weight="bold" font-size="14.4" fill="#231f20" stroke="#231f20" stroke-width="0.3" textLength="42.6" lengthAdjust="spacingAndGlyphs">LINUX</text>
<text x="360.6" y="397.8" font-family="Liberation Sans, sans-serif" font-weight="bold" font-size="14.4" fill="#231f20" stroke="#231f20" stroke-width="0.3" textLength="35.3" lengthAdjust="spacingAndGlyphs">MAC</text>
<text x="462.2" y="397.8" font-family="Liberation Sans, sans-serif" font-weight="bold" font-size="14.4" fill="#231f20" stroke="#231f20" stroke-width="0.3" textLength="29.0" lengthAdjust="spacingAndGlyphs">SUN</text>
<text x="389.6" y="294.2" font-family="Liberation Sans, Noto Sans CJK SC, sans-serif" font-weight="bold" font-size="22.3" fill="none" stroke="#fff" stroke-opacity="0.92" stroke-width="7.4" stroke-linejoin="round" textLength="89.2" lengthAdjust="spacingAndGlyphs">天下数据</text>
<text x="389.6" y="294.2" font-family="Liberation Sans, Noto Sans CJK SC, sans-serif" font-weight="bold" font-size="22.3" fill="#707070" stroke="#707070" stroke-width="0.4" stroke-linejoin="round" textLength="89.2" lengthAdjust="spacingAndGlyphs">天下数据</text>
<text y="315.7" font-family="Liberation Sans, sans-serif" font-weight="bold" font-size="19.8" fill="#fff" stroke="#fff" stroke-opacity="0.9" stroke-width="6" stroke-linejoin="round"><tspan x="389.85" textLength="13.32" lengthAdjust="spacingAndGlyphs">w</tspan><tspan x="403.85" textLength="13.32" lengthAdjust="spacingAndGlyphs">w</tspan><tspan x="417.85" textLength="13.32" lengthAdjust="spacingAndGlyphs">w</tspan><tspan x="443.42" textLength="7.28" lengthAdjust="spacingAndGlyphs">.</tspan><tspan x="451.77" textLength="7.29" lengthAdjust="spacingAndGlyphs">i</tspan><tspan x="461.07" textLength="12.36" lengthAdjust="spacingAndGlyphs">d</tspan><tspan x="476.45" textLength="10.72" lengthAdjust="spacingAndGlyphs">c</tspan><tspan x="489.17" textLength="12.36" lengthAdjust="spacingAndGlyphs">b</tspan><tspan x="503.61" textLength="11.29" lengthAdjust="spacingAndGlyphs">e</tspan><tspan x="516.51" textLength="10.89" lengthAdjust="spacingAndGlyphs">s</tspan><tspan x="528.22" textLength="7.77" lengthAdjust="spacingAndGlyphs">t</tspan><tspan x="539.62" textLength="7.28" lengthAdjust="spacingAndGlyphs">.</tspan><tspan x="548.06" textLength="10.49" lengthAdjust="spacingAndGlyphs">c</tspan><tspan x="561.29" textLength="12.73" lengthAdjust="spacingAndGlyphs">o</tspan><tspan x="577.08" textLength="16.47" lengthAdjust="spacingAndGlyphs">m</tspan></text>
<text y="315.7" font-family="Liberation Sans, sans-serif" font-weight="bold" font-size="19.8" fill="#707070" stroke="#707070" stroke-width="0.3"><tspan x="389.85" textLength="13.32" lengthAdjust="spacingAndGlyphs">w</tspan><tspan x="403.85" textLength="13.32" lengthAdjust="spacingAndGlyphs">w</tspan><tspan x="417.85" textLength="13.32" lengthAdjust="spacingAndGlyphs">w</tspan><tspan x="443.42" textLength="7.28" lengthAdjust="spacingAndGlyphs">.</tspan><tspan x="451.77" textLength="7.29" lengthAdjust="spacingAndGlyphs">i</tspan><tspan x="461.07" textLength="12.36" lengthAdjust="spacingAndGlyphs">d</tspan><tspan x="476.45" textLength="10.72" lengthAdjust="spacingAndGlyphs">c</tspan><tspan x="489.17" textLength="12.36" lengthAdjust="spacingAndGlyphs">b</tspan><tspan x="503.61" textLength="11.29" lengthAdjust="spacingAndGlyphs">e</tspan><tspan x="516.51" textLength="10.89" lengthAdjust="spacingAndGlyphs">s</tspan><tspan x="528.22" textLength="7.77" lengthAdjust="spacingAndGlyphs">t</tspan><tspan x="539.62" textLength="7.28" lengthAdjust="spacingAndGlyphs">.</tspan><tspan x="548.06" textLength="10.49" lengthAdjust="spacingAndGlyphs">c</tspan><tspan x="561.29" textLength="12.73" lengthAdjust="spacingAndGlyphs">o</tspan><tspan x="577.08" textLength="16.47" lengthAdjust="spacingAndGlyphs">m</tspan></text>
</g>
<rect x="548" y="404" width="50.5" height="12" fill="#fff"/>
<text x="554.2" y="413.8" font-family="Liberation Mono, monospace" font-size="10" fill="#000" textLength="41.6" lengthAdjust="spacing">idcbest</text>
</svg>
</body></html>
